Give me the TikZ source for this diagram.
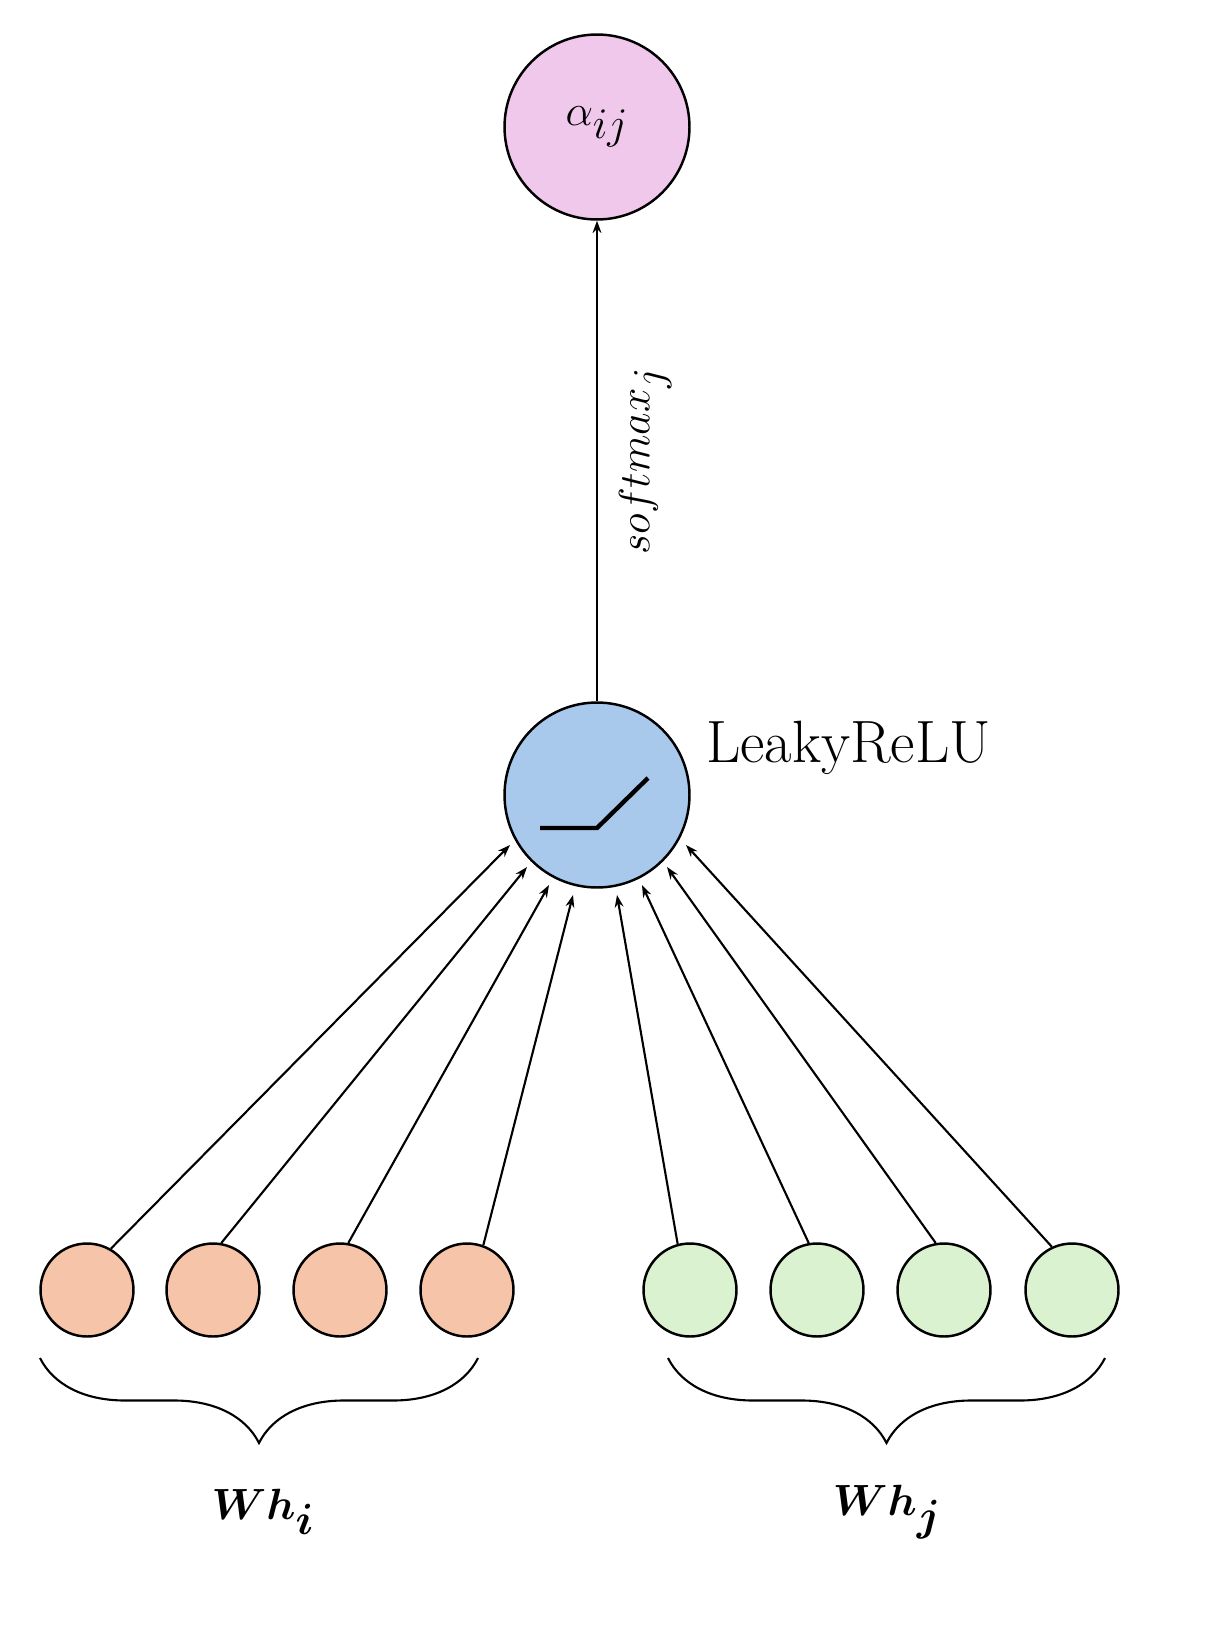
\documentclass[tikz,border=0pt]{standalone}
\usepackage{amsmath,bm}
\usetikzlibrary{decorations.pathreplacing,arrows.meta}
\definecolor{pink}{RGB}{240,200,235}
\definecolor{blu}{RGB}{168,200,236}
\definecolor{ora}{RGB}{246,196,168}
\definecolor{gre}{RGB}{218,242,208}
\begin{document}
\begin{tikzpicture}[x=0.02cm,y=-0.02cm,
  big/.style={circle,draw,line width=1.4pt,minimum size=3.7cm,inner sep=0},
  small/.style={circle,draw,line width=1.4pt,minimum size=1.86cm,inner sep=0},
  arr/.style={-{Stealth[length=7pt,width=5pt]},line width=1.2pt},
  br/.style={decorate,decoration={brace,mirror,amplitude=1.7cm},line width=1.2pt}]
\useasboundingbox (0,0) rectangle (1205,1646);
\node[big,fill=pink] (a) at (597,127) {\fontsize{38}{44}\selectfont$\alpha_{ij}$};
\node[big,fill=blu] (l) at (597,795) {};
\draw[line width=2.5pt] (540,828) -- (597,828) -- (648,778);
\node[anchor=west] (lt) at (700,748) {\fontsize{34}{40}\selectfont LeakyReLU};
\draw[arr] (l) -- (a) node[pos=0.5,right=0.3cm,rotate=90,anchor=north] {\fontsize{62}{70}\selectfont$softmax_j$};
\foreach \x/\n in {87/o1,213/o2,340/o3,467/o4}{\node[small,fill=ora] (\n) at (\x,1290) {};}
\foreach \x/\n in {690/g1,817/g2,944/g3,1072/g4}{\node[small,fill=gre] (\n) at (\x,1290) {};}
\coordinate (t1) at (510,845);\coordinate (t2) at (527,867);\coordinate (t3) at (549,885);\coordinate (t4) at (573,895);
\coordinate (t5) at (617,895);\coordinate (t6) at (642,885);\coordinate (t7) at (667,867);\coordinate (t8) at (686,845);
\draw[arr] (o1.60) -- (t1);
\draw[arr] (o2.80) -- (t2);
\draw[arr] (o3.80) -- (t3);
\draw[arr] (o4.70) -- (t4);
\draw[arr] (g1.105) -- (t5);
\draw[arr] (g2.100) -- (t6);
\draw[arr] (g3.100) -- (t7);
\draw[arr] (g4.115) -- (t8);
\coordinate (b1) at (40,1358);\coordinate (b2) at (478,1358);
\coordinate (b3) at (668,1358);\coordinate (b4) at (1105,1358);
\draw[br] (b1) -- (b2);
\draw[br] (b3) -- (b4);
\node (wi) at (263,1512) {\fontsize{38}{44}\selectfont$\bm{Wh_i}$};
\node (wj) at (887,1512) {\fontsize{38}{44}\selectfont$\bm{Wh_j}$};
\end{tikzpicture}
\end{document}
